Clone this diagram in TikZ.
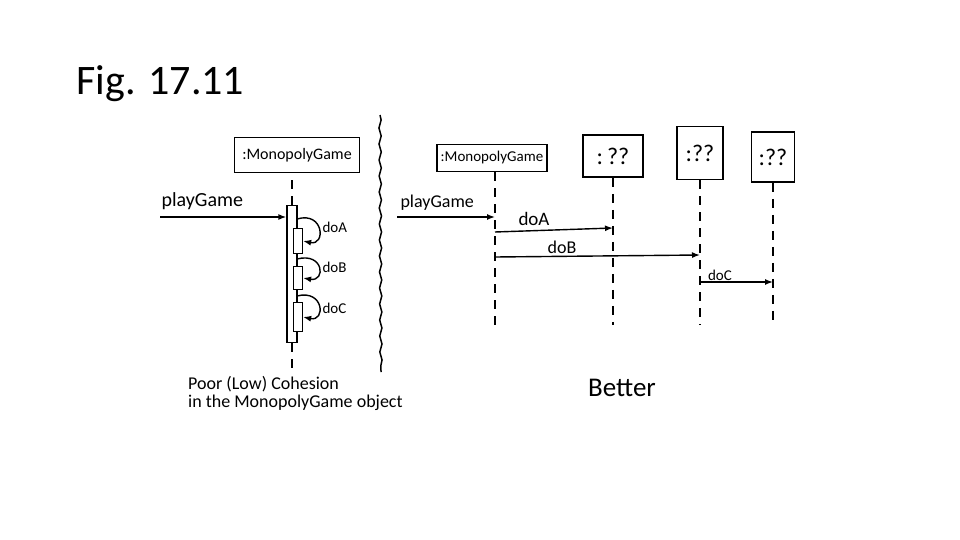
\documentclass[tikz,border=0pt]{standalone}
\usepackage{fontspec}
\setmainfont{Carlito}
\usetikzlibrary{arrows.meta, positioning, decorations.pathmorphing, calc}

\tikzset{
  objbox/.style={draw, line width=1.5pt, rectangle, inner sep=2pt, font=\fontsize{16}{18}\selectfont},
  lifeline/.style={line width=1.5pt, dash pattern=on 9pt off 7pt},
  msg/.style={line width=1.4pt, -{Latex[length=8pt,width=6pt]}},
  actbar/.style={draw, fill=white, line width=1.3pt, minimum width=10pt, inner sep=0pt},
  hand/.style={font=\fontsize{#1}{#1}\selectfont},
}

\begin{document}
\begin{tikzpicture}[x=1pt, y=-1pt]
  \useasboundingbox (0,0) rectangle (960,540);
  \node[anchor=base west, hand=42] (title) at (73,95) {Fig. 17.11};

  % left half: MonopolyGame calls itself
  % box centre (297,155), bar x 287-297, y 206-343
  \node[objbox, minimum width=125pt, minimum height=35pt] (lmg) at (297,155) {:MonopolyGame};
  \node[actbar, minimum height=137pt] (bar) at (292,274) {};
  \draw[lifeline] (bar.north) -- (bar.north |- lmg.south);
  \draw[lifeline] (bar.south) -- (bar.south |- 0,372);
  \coordinate (lpg) at (160,217);
  \draw[msg] (lpg) -- (bar.west |- lpg);
  \node[hand=20, anchor=south west] (lpglbl) at (158,213) {playGame};
  % nested activations for doA, doB, doC
  \foreach \name/\y/\h in {actA/241/25, actB/278/23, actC/317/29} {
    \node[actbar, minimum width=9pt, minimum height=\h pt] (\name) at (298,\y) {};
  }
  \coordinate (loopA) at (297,219);
  \coordinate (loopB) at (297,259);
  \coordinate (loopC) at (297,296);
  \draw[msg] (loopA) .. controls (324,211) and (326,246) .. (actA.east);
  \draw[msg] (loopB) .. controls (324,252) and (326,282) .. (actB.east);
  \draw[msg] (loopC) .. controls (324,289) and (326,322) .. (actC.east);
  \node[hand=15, anchor=west] (lblA) at (319,227) {doA};
  \node[hand=15, anchor=west] (lblB) at (319,267) {doB};
  \node[hand=15, anchor=west] (lblC) at (319,308) {doC};

  % wavy divider
  \draw[line width=1.5pt, decorate, decoration={snake, amplitude=1.1pt, segment length=16pt}]
    (380,115) -- (381,372);

  % right half: work handed to other objects
  \node[objbox, minimum width=110pt, minimum height=27pt, hand=15] (rmg) at (492,158) {:MonopolyGame};
  \draw[lifeline] (rmg.south -| 495,0) -- (495,325);
  \foreach \name/\x/\y/\w/\h/\txt in {qa/613/156/60/42/{:\,??}, qb/700/153/46/53/{:??}, qc/773/157/43/50/{:??}} {
    \node[objbox, minimum width=\w pt, minimum height=\h pt, hand=24] (\name) at (\x,\y) {\txt};
    \draw[lifeline] (\name.south) -- (\name.south |- 0,325);
  }
  \coordinate (rpg) at (397,217);
  \draw[msg] (rpg) -- (495,217);
  \node[hand=18, anchor=south west] (rpglbl) at (397,214) {playGame};
  \draw[msg] (495,232) -- (qa.south |- 0,228);
  \draw[msg] (495,257) -- (qb.south |- 0,255);
  \draw[msg] (qb.south |- 0,282) -- (qc.south |- 0,282);
  \node[hand=19] (rlblA) at (534,219) {doA};
  \node[hand=18] (rlblB) at (562,247) {doB};
  \node[hand=15] (rlblC) at (720,275) {doC};

  % captions
  \node[hand=18, anchor=north west, align=left, inner sep=0pt] (poor) at (188,376)
    {Poor (Low) Cohesion\\in the MonopolyGame object};
  \node[hand=27] (better) at (622,388) {Better};
\end{tikzpicture}
\end{document}
